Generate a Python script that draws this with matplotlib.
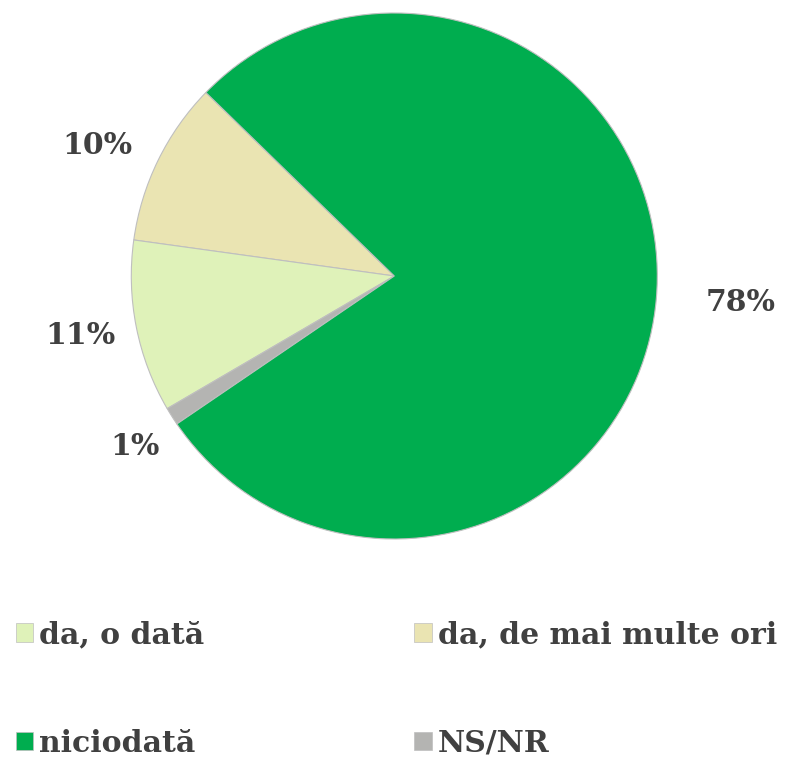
import numpy as np
import matplotlib
matplotlib.use("Agg")
import matplotlib.pyplot as plt
from matplotlib.patches import Patch

# legend order
categories = ["da, o dată", "da, de mai multe ori", "niciodată", "NS/NR"]
values = [10.6, 10.1, 78.2, 1.1]
colors = ["#DFF2B9", "#EAE4B2", "#00AD4F", "#B4B4B2"]

# order the slices are drawn (counterclockwise from the start angle)
draw_order = [1, 0, 3, 2]
# label placement: (radial distance, angle shift in degrees)
label_pos = {0: (1.215, -0.5), 1: (1.235, 2.3), 2: (1.32, 0.6), 3: (1.18, 1.0)}

TEXT_COLOR = "#404040"
FONT = ["DejaVu Serif"]

W, H = 785, 759
fig = plt.figure(figsize=(W / 100, H / 100), dpi=100)

cx, cy, r = 394.3, 276, 263
ax = fig.add_axes([(cx - r) / W, (H - cy - r) / H, 2 * r / W, 2 * r / H])

wedges, _ = ax.pie(
    [values[i] for i in draw_order],
    colors=[colors[i] for i in draw_order],
    startangle=135.76,
    counterclock=True,
    radius=1,
    wedgeprops=dict(edgecolor="#BFBFBF", linewidth=0.8),
)
ax.set_xlim(-1, 1)
ax.set_ylim(-1, 1)
ax.set_aspect("equal")
ax.axis("off")

for w, i in zip(wedges, draw_order):
    d, shift = label_pos[i]
    mid = np.deg2rad((w.theta1 + w.theta2) / 2 + shift)
    ax.text(d * np.cos(mid), d * np.sin(mid), f"{values[i]:.0f}%",
            ha="center", va="center", fontsize=21.5, fontweight="bold",
            color=TEXT_COLOR, family=FONT)

leg_order = [0, 2, 1, 3]
handles = [Patch(facecolor=colors[i], edgecolor="#BFBFBF", linewidth=0.5)
           for i in leg_order]
fig.legend(handles, [categories[i] for i in leg_order],
           ncol=2, loc="upper left", bbox_to_anchor=(0.005, 0.199),
           frameon=False, handlelength=0.58, handleheight=0.58,
           handletextpad=0.2, columnspacing=7.03, labelspacing=2.67,
           prop=dict(family=FONT, weight="bold", size=21.5),
           labelcolor=TEXT_COLOR, borderaxespad=0)

fig.savefig("out.png", dpi=100)
